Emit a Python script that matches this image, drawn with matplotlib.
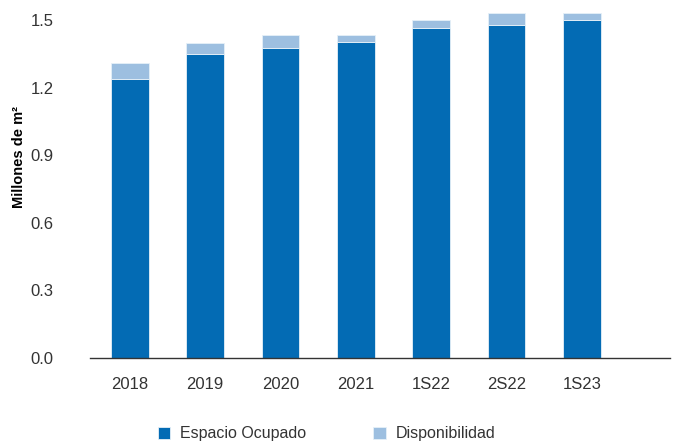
import matplotlib.pyplot as plt

periods = ['2018', '2019', '2020', '2021', '1S22', '2S22', '1S23']
occupied = [1.24, 1.35, 1.376, 1.404, 1.468, 1.479, 1.503]
available = [0.07, 0.05, 0.058, 0.033, 0.033, 0.052, 0.028]

dark_blue = '#036bb4'
light_blue = '#9dbfe0'

plt.rcParams['font.family'] = ['Liberation Sans', 'DejaVu Sans']

fig = plt.figure(figsize=(6.73, 4.44), dpi=100)
ax = fig.add_axes([0.1337, 0.1937, 0.8618, 0.7963])

x = range(len(periods))
ax.bar(x, occupied, width=0.5, color=dark_blue, edgecolor='#e6f0f8', linewidth=0.6,
       label='Espacio Ocupado')
ax.bar(x, available, width=0.5, bottom=occupied, color=light_blue, edgecolor='#e6f0f8',
       linewidth=0.6, label='Disponibilidad')

ax.set_xlim(-0.53, 7.17)
ax.set_ylim(0, 1.571)
ax.set_yticks([0.0, 0.3, 0.6, 0.9, 1.2, 1.5])
ax.set_yticklabels(['0.0', '0.3', '0.6', '0.9', '1.2', '1.5'])
ax.set_xticks(list(x))
ax.set_xticklabels(periods)
ax.tick_params(axis='both', length=0, labelsize=12, colors='#333333')
ax.tick_params(axis='y', pad=26)
ax.tick_params(axis='x', pad=14)

for side in ['top', 'right', 'left']:
    ax.spines[side].set_visible(False)
ax.spines['bottom'].set_color('#333333')
ax.spines['bottom'].set_linewidth(1.0)

ax.set_ylabel('Millones de m²', fontsize=10.5, fontweight='bold')
ax.yaxis.set_label_coords(-0.11, 0.568)

fig.legend(loc='lower center', bbox_to_anchor=(0.485, -0.026), ncol=2, frameon=False,
           fontsize=11.5, handlelength=0.8, handleheight=0.8, handletextpad=0.6,
           columnspacing=4.2, labelcolor='#333333')

fig.savefig('out.png', dpi=100)
